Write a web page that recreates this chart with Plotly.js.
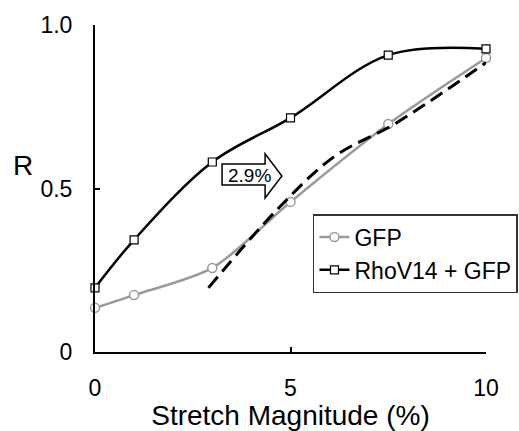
<!DOCTYPE html>
<html>
<head>
<meta charset="utf-8">
<script src="https://cdn.plot.ly/plotly-3.0.1.min.js"></script>
<style>html,body{margin:0;padding:0;background:#fff}#chart{width:519px;height:431px}</style>
</head>
<body>
<div id="chart"></div>
<script>
// Data
const stretch = [0, 1, 3, 5, 7.5, 10];
const gfpR = [0.135, 0.174, 0.257, 0.459, 0.697, 0.899];
const rhoR = [0.196, 0.343, 0.581, 0.716, 0.908, 0.927];
const fitX = [2.9, 4.6, 6.1, 7.7, 10];
const fitR = [0.196, 0.428, 0.596, 0.70, 0.885];
const xTicks = [0, 5, 10];
const xTickText = ['0', '5', '10'];
const yTicks = [0, 0.5, 1.0];
const yTickText = ['0', '0.5', '1.0'];
const seriesNames = ['GFP', 'RhoV14 + GFP'];
const arrowLabel = '2.9%';

const FONT = 'Liberation Sans, Arial, Helvetica, sans-serif';

const traces = [
  {
    x: stretch, y: gfpR, name: seriesNames[0], type: 'scatter', mode: 'lines+markers',
    line: {color: '#9a9a9a', width: 2.5, shape: 'spline', smoothing: 0.8},
    marker: {symbol: 'circle', size: 9, color: '#ffffff', line: {color: '#9a9a9a', width: 1.5}},
    cliponaxis: false
  },
  {
    x: fitX, y: fitR, name: 'fit', type: 'scatter', mode: 'lines', showlegend: false,
    line: {color: '#000000', width: 3, dash: '14px,7px', shape: 'spline', smoothing: 1},
    cliponaxis: false
  },
  {
    x: stretch, y: rhoR, name: seriesNames[1], type: 'scatter', mode: 'lines+markers',
    line: {color: '#000000', width: 2.5, shape: 'spline', smoothing: 1},
    marker: {symbol: 'square', size: 8, color: '#ffffff', line: {color: '#000000', width: 1.2}},
    cliponaxis: false
  }
];

// Block arrow (annotation decoration), in data coordinates
const ax0 = 3.25, ax1 = 4.35, ax2 = 4.78;
const ayT = 0.575, ayB = 0.511, ahT = 0.606, ahB = 0.471, ayM = 0.538;
const arrowPath = `M ${ax0} ${ayB} L ${ax0} ${ayT} L ${ax1} ${ayT} L ${ax1} ${ahT} L ${ax2} ${ayM} L ${ax1} ${ahB} L ${ax1} ${ayB} Z`;

const layout = {
  width: 519, height: 431,
  margin: {l: 95, r: 33, t: 25, b: 79, autoexpand: false},
  paper_bgcolor: '#ffffff', plot_bgcolor: '#ffffff',
  font: {family: FONT, color: '#000000'},
  showlegend: true,
  legend: {
    x: 0.5575, y: 0.422, xanchor: 'left', yanchor: 'top',
    bgcolor: '#ffffff', bordercolor: '#333333', borderwidth: 1.5,
    font: {family: FONT, size: 23, color: '#000000'},
    itemwidth: 30, tracegroupgap: 0
  },
  xaxis: {
    range: [0, 10], tickmode: 'array', tickvals: xTicks, ticktext: xTickText,
    showline: true, linecolor: '#000000', linewidth: 2,
    ticks: 'inside', ticklen: 5, tickwidth: 2, tickcolor: '#000000',
    showgrid: false, zeroline: false,
    tickfont: {family: FONT, size: 23, color: '#000000'},
    ticklabelstandoff: 14,
    title: {text: 'Stretch Magnitude (%)', font: {family: FONT, size: 28, color: '#000000'}, standoff: 10}
  },
  yaxis: {
    range: [0, 1], tickmode: 'array', tickvals: yTicks, ticktext: yTickText,
    showline: true, linecolor: '#000000', linewidth: 2,
    ticks: 'inside', ticklen: 5, tickwidth: 2, tickcolor: '#000000',
    showgrid: false, zeroline: false,
    tickfont: {family: FONT, size: 23, color: '#000000'},
    ticklabelstandoff: 16
  },
  shapes: [
    {type: 'path', xref: 'x', yref: 'y', path: arrowPath,
     fillcolor: '#ffffff', line: {color: '#000000', width: 1.5}, layer: 'above'}
  ],
  annotations: [
    {text: arrowLabel, xref: 'x', yref: 'y', x: 3.96, y: 0.540, showarrow: false,
     font: {family: FONT, size: 19, color: '#000000'}},
    {text: 'R', xref: 'paper', yref: 'paper', x: -0.184, y: 0.569, showarrow: false,
     xanchor: 'center', yanchor: 'middle', font: {family: FONT, size: 28, color: '#000000'}}
  ]
};

Plotly.newPlot('chart', traces, layout, {displayModeBar: false, staticPlot: true});
</script>
</body>
</html>
